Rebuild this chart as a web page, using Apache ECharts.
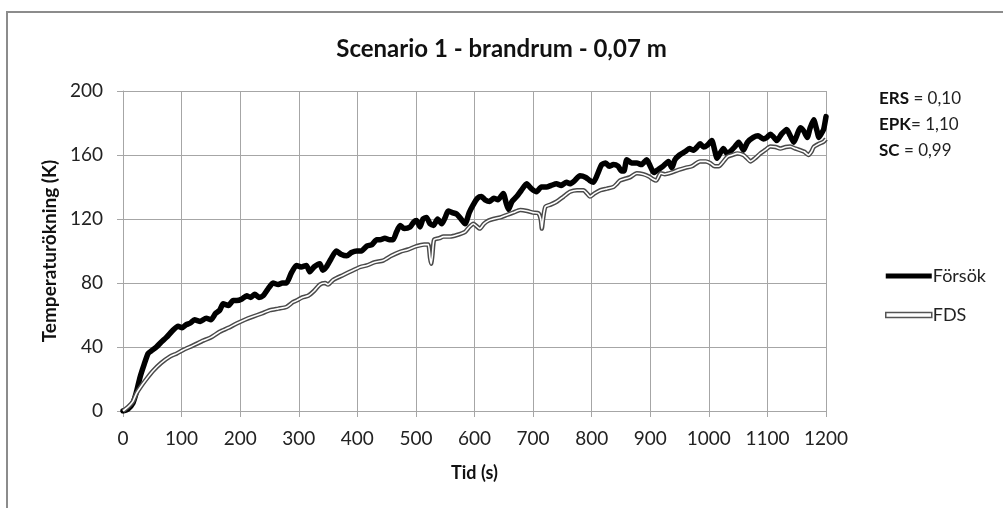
<!DOCTYPE html>
<html>
<head>
<meta charset="utf-8">
<script src="https://cdn.jsdelivr.net/npm/echarts@6/dist/echarts.min.js"></script>
<style>
  html, body { margin: 0; padding: 0; background: #fff; }
  #chart { width: 1003px; height: 508px; }
</style>
</head>
<body>
<div id="chart"></div>
<script>
// Försök (mätning) – tid i s, temperaturökning i K
const forsokTime = [0, 8, 17, 23, 29, 36, 43, 50, 57, 65, 74, 84, 94, 101, 108, 115, 122, 132, 142, 150,
  158, 165, 171, 180, 188, 194, 203, 211, 218, 225, 232, 239, 247, 256, 265, 272, 279, 287, 296, 304,
  313, 319, 326, 336, 341, 347, 355, 364, 372, 382, 390, 399, 407, 416, 425, 433, 439, 447, 455, 461,
  467, 473, 480, 490, 496, 501, 507, 512, 518, 524, 530, 537, 544, 550, 555, 562, 570, 577, 584, 591,
  598, 605, 612, 618, 626, 633, 640, 649, 654, 658, 664, 672, 680, 689, 697, 706, 714, 723, 731, 740,
  748, 757, 763, 771, 780, 790, 797, 803, 810, 817, 824, 830, 837, 845, 851, 855, 860, 868, 877, 885,
  894, 900, 906, 914, 922, 931, 937, 942, 950, 959, 967, 974, 980, 985, 991, 997, 1005, 1010, 1014, 1019,
  1025, 1031, 1036, 1044, 1051, 1059, 1066, 1076, 1084, 1093, 1099, 1105, 1111, 1116, 1124, 1133, 1139, 1145, 1150, 1156,
  1162, 1168, 1173, 1179, 1184, 1188, 1193, 1196, 1200]
const forsokValue = [0, 1, 5, 12, 21, 29, 36, 38, 40, 43, 46, 50, 53, 52, 54, 55, 57, 56, 58, 57,
  61, 63, 67, 66, 69, 69, 70, 72, 71, 73, 71, 72, 76, 80, 79, 80, 80, 86, 91, 90,
  91, 87, 90, 92, 88, 90, 95, 100, 98, 97, 99, 100, 100, 103, 104, 107, 107, 108, 107, 107,
  112, 116, 114, 115, 118, 119, 115, 120, 121, 117, 116, 120, 117, 121, 125, 124, 123, 120, 117, 124,
  129, 133, 134, 132, 131, 133, 132, 136, 130, 126, 131, 134, 138, 142, 139, 137, 140, 140, 141, 142,
  141, 143, 142, 144, 147, 146, 144, 143, 148, 154, 155, 153, 154, 153, 150, 150, 157, 155, 155, 154,
  157, 153, 149, 151, 153, 156, 152, 157, 160, 162, 164, 163, 165, 167, 165, 166, 169, 163, 158, 161,
  164, 161, 162, 165, 168, 163, 168, 171, 172, 170, 171, 173, 171, 169, 173, 176, 172, 168, 172, 177,
  175, 171, 177, 182, 176, 171, 174, 176, 184]

// FDS (simulering)
const fdsTime = [0, 10, 17, 23, 30, 40, 51, 65, 80, 92, 102, 120, 137, 150, 165, 180, 194, 208, 222, 237,
  251, 265, 279, 290, 296, 306, 316, 326, 336, 345, 350, 359, 376, 393, 405, 416, 430, 444, 458, 473,
  487, 501, 514, 521, 524, 526, 528, 531, 540, 547, 558, 570, 584, 591, 598, 609, 616, 624, 632, 644,
  655, 666, 678, 690, 700, 709, 713, 715, 717, 721, 730, 740, 752, 763, 775, 786, 792, 797, 805, 815,
  826, 837, 843, 848, 856, 865, 877, 888, 898, 904, 910, 918, 925, 936, 948, 960, 971, 985, 995, 1002,
  1010, 1017, 1025, 1032, 1040, 1049, 1059, 1065, 1071, 1079, 1088, 1096, 1105, 1114, 1122, 1131, 1139, 1148, 1156, 1163,
  1170, 1175, 1179, 1188, 1196, 1200]
const fdsValue = [0, 3, 6, 11, 15, 20, 25, 30, 34, 36, 38, 41, 44, 46, 49.5, 52, 54.7, 57, 59, 61,
  63, 64, 65, 68, 69, 71, 72, 75, 79, 80, 79, 82, 85, 88, 90, 91, 93, 94, 97, 99.5,
  101, 103, 104, 104, 96, 92, 97, 107, 108, 109, 109, 110, 112, 115, 117, 114, 117, 119, 120, 121,
  122.5, 124, 125.6, 125, 124, 123.6, 120, 114, 120, 127.7, 129, 130.8, 134, 137, 138, 138, 136, 134, 136, 138,
  139, 140, 142, 144, 145, 146, 148.6, 148, 146.5, 145, 144, 148.6, 148, 149, 150.7, 152, 153, 156, 156, 155,
  153, 153, 156, 159, 160, 161, 160, 158, 156, 158, 161, 163, 165.3, 165, 164, 165, 165.3, 164, 163, 162,
  160, 162, 165, 167, 168.4, 170]

const xTicks = { min: 0, max: 1200, step: 100 }
const yTicks = { min: 0, max: 200, step: 40 }

const pairs = (ts, vs) => ts.map((t, i) => [t, vs[i]])

const fontFamily = 'Lato, "Open Sans", sans-serif'

const chart = echarts.init(document.getElementById('chart'))

chart.setOption({
  animation: false,
  backgroundColor: '#fff',
  textStyle: { fontFamily },

  title: {
    text: 'Scenario 1 - brandrum - 0,07 m',
    left: 'center',
    top: 32,
    textStyle: { fontSize: 24, fontWeight: 'bold', color: '#111', fontFamily },
  },

  // yttre ram som i Excel-diagrammet (bara vänster och övre kant syns)
  graphic: [
    {
      type: 'rect',
      shape: { x: 7, y: 12, width: 1200, height: 700 },
      style: { fill: 'none', stroke: '#8c8c8c', lineWidth: 2 },
      silent: true,
    },
    {
      type: 'text',
      left: 879,
      top: 86,
      style: {
        text: '{b|ERS} = 0,10\n{b|EPK}= 1,10\n{b|SC} = 0,99',
        fontSize: 17,
        lineHeight: 26,
        fill: '#222',
        fontFamily,
        rich: {
          b: { fontWeight: 'bold', fontSize: 17, fill: '#111', fontFamily, lineHeight: 26 },
        },
      },
    },
  ],

  legend: {
    orient: 'vertical',
    left: 880,
    top: 262,
    itemWidth: 46,
    itemHeight: 5,
    itemGap: 21,
    textStyle: { fontSize: 18, color: '#222', fontFamily, padding: [0, 0, 0, -4] },
    data: [
      { name: 'Försök', icon: 'rect', itemStyle: { color: '#000' } },
      { name: 'FDS', icon: 'rect', itemStyle: { color: '#fff', borderColor: '#555', borderWidth: 1.5 } },
    ],
  },

  grid: {
    left: 123,
    right: 177,
    top: 91,
    bottom: 97,
  },

  xAxis: {
    type: 'value',
    min: xTicks.min,
    max: xTicks.max,
    interval: xTicks.step,
    name: 'Tid (s)',
    nameLocation: 'middle',
    nameGap: 53,
    nameTextStyle: { fontSize: 18, fontWeight: 'bold', color: '#111', fontFamily },
    axisLine: { show: true, lineStyle: { color: '#a6a6a6', width: 1 } },
    axisTick: { show: true, length: 6, lineStyle: { color: '#a6a6a6' } },
    axisLabel: { fontSize: 19, color: '#222', margin: 18, fontFamily, formatter: (v) => String(v) },
    splitLine: { show: true, lineStyle: { color: '#a6a6a6', width: 1 } },
  },

  yAxis: {
    type: 'value',
    min: yTicks.min,
    max: yTicks.max,
    interval: yTicks.step,
    name: 'Temperaturökning (K)',
    nameLocation: 'middle',
    nameGap: 61,
    nameTextStyle: { fontSize: 19, fontWeight: 'bold', color: '#111', fontFamily },
    axisLine: { show: true, lineStyle: { color: '#a6a6a6', width: 1 } },
    axisTick: { show: true, length: 6, lineStyle: { color: '#a6a6a6' } },
    axisLabel: { fontSize: 19, color: '#222', margin: 20, fontFamily },
    splitLine: { show: true, lineStyle: { color: '#a6a6a6', width: 1 } },
  },

  series: [
    {
      name: 'Försök',
      type: 'line',
      data: pairs(forsokTime, forsokValue),
      showSymbol: false,
      smooth: 0.2,
      lineStyle: { color: '#000', width: 5.5, join: 'round', cap: 'round' },
      itemStyle: { color: '#000' },
      z: 2,
    },
    // FDS ritas som dubbellinje: grå kontur + vit kärna
    {
      name: 'FDS',
      type: 'line',
      data: pairs(fdsTime, fdsValue),
      showSymbol: false,
      smooth: 0.2,
      lineStyle: { color: '#4a4a4a', width: 4.5, join: 'round' },
      itemStyle: { color: '#fff', borderColor: '#555' },
      z: 3,
    },
    {
      name: 'FDS kärna',
      type: 'line',
      data: pairs(fdsTime, fdsValue),
      showSymbol: false,
      smooth: 0.2,
      lineStyle: { color: '#fff', width: 1.6, join: 'round' },
      z: 4,
    },
  ],
})
</script>
</body>
</html>
